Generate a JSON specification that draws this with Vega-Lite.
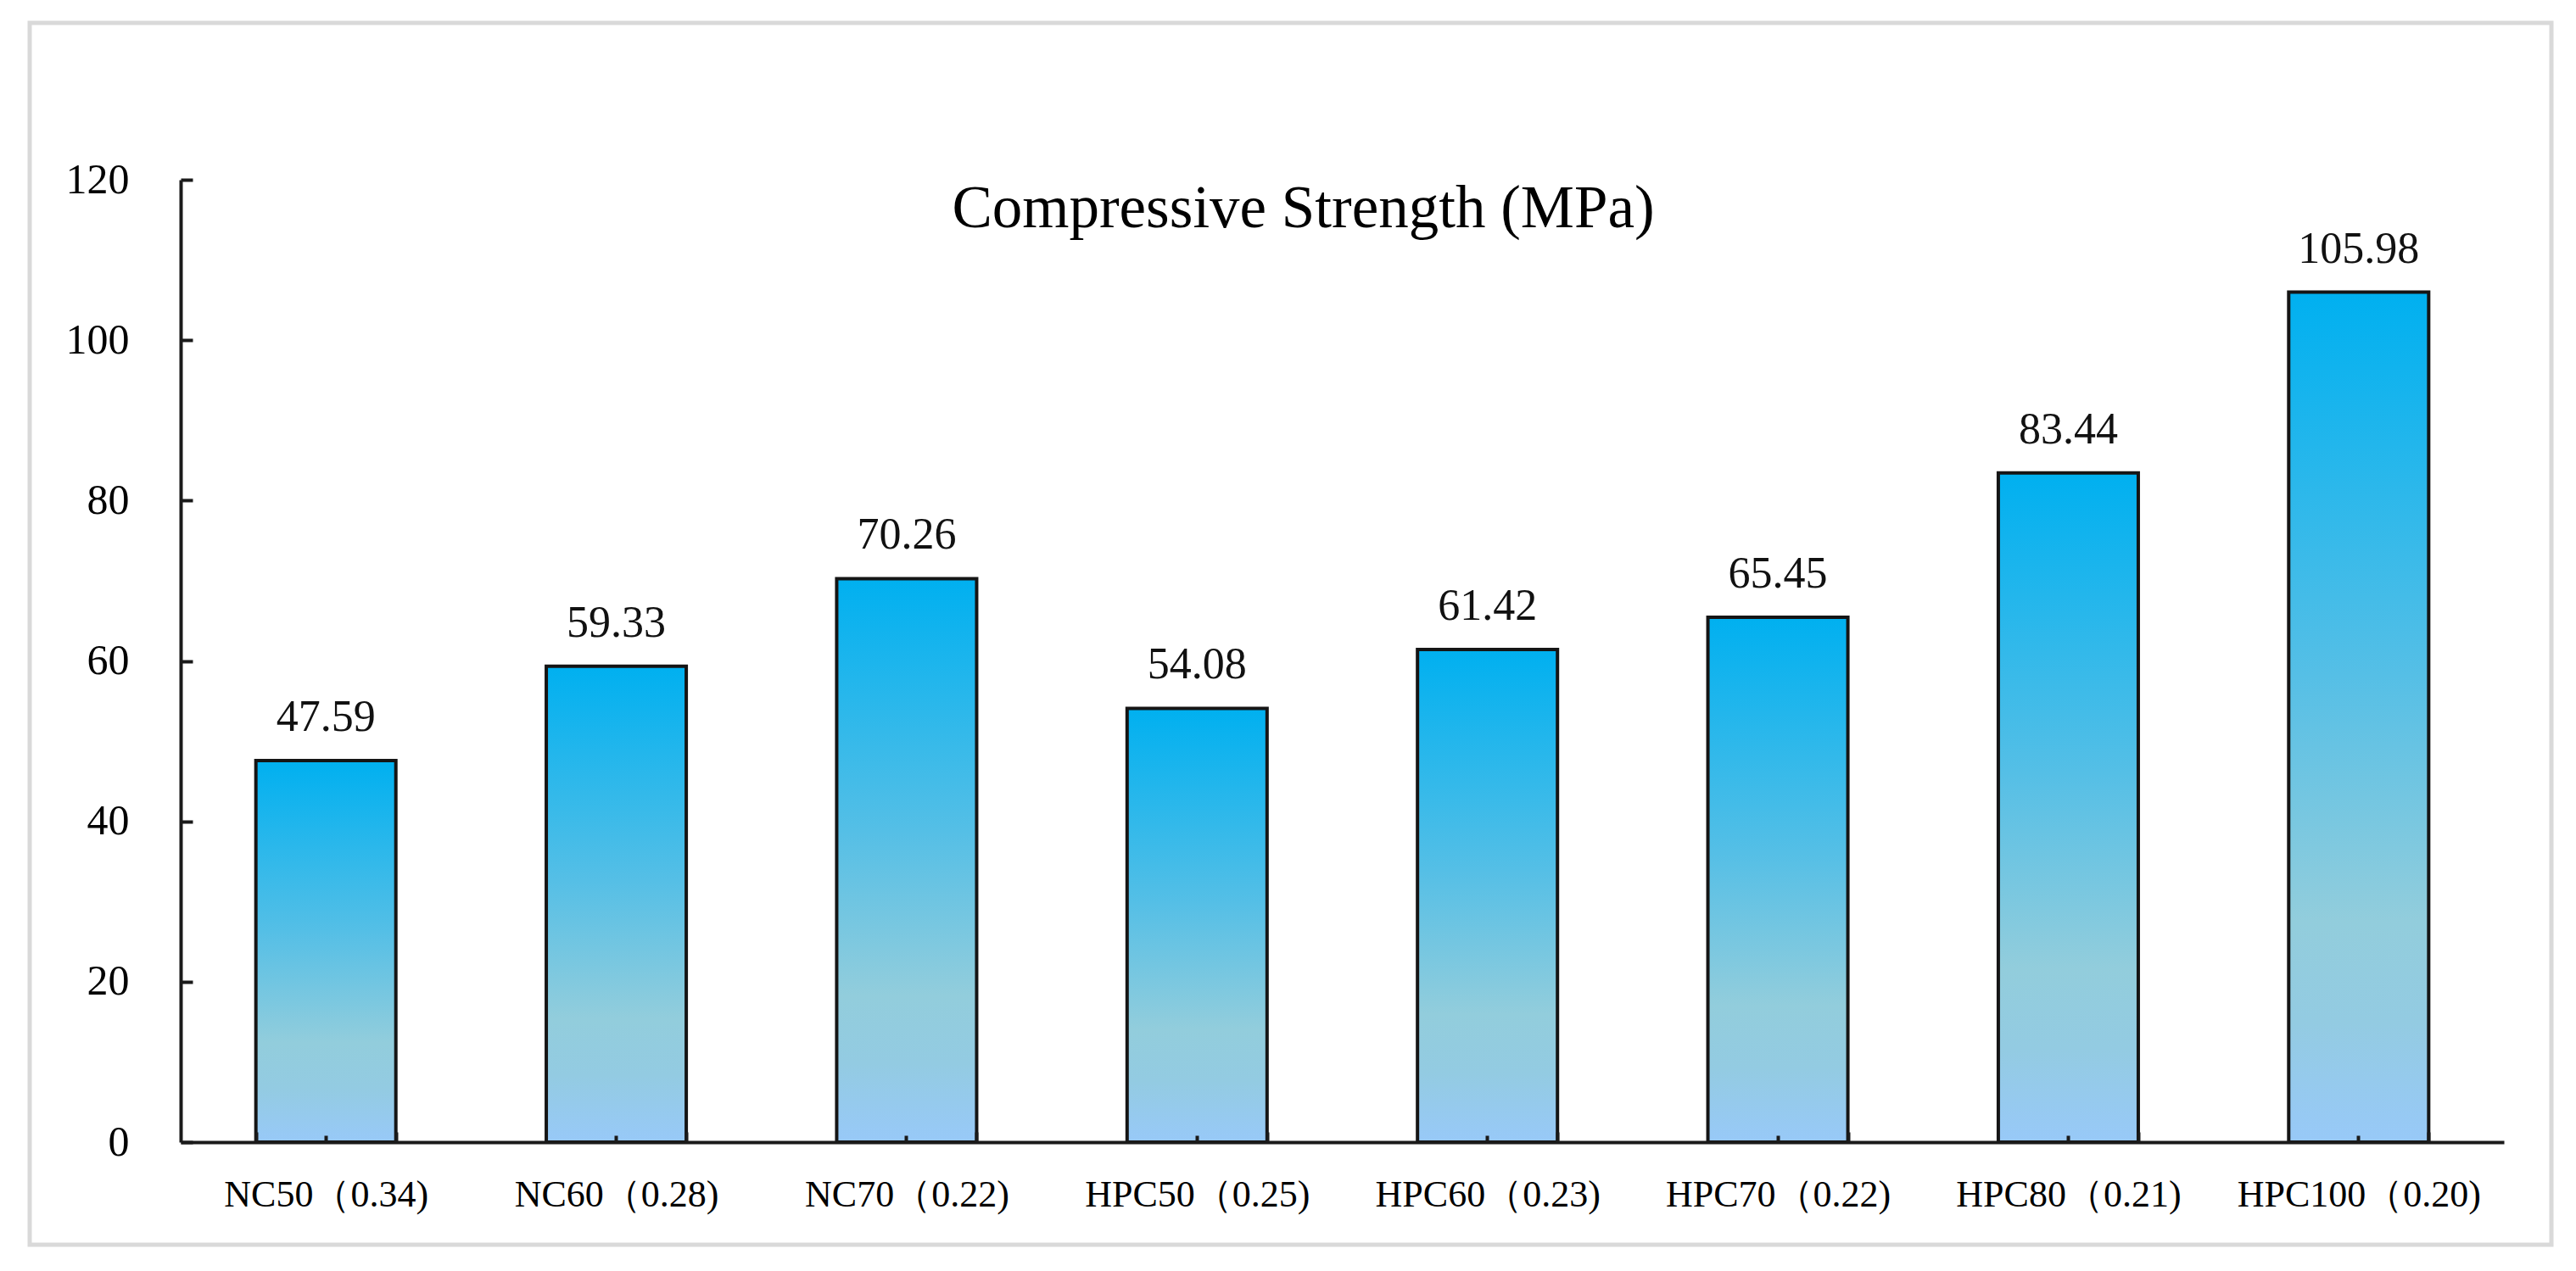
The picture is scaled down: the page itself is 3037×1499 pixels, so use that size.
{
  "$schema": "https://vega.github.io/schema/vega-lite/v6.json",
  "autosize": {"type": "none"},
  "width": 2973,
  "height": 1441,
  "padding": {"left": 35, "top": 27, "right": 29, "bottom": 31},
  "background": "white",
  "config": {
    "view": {"stroke": "#d9d9d9", "strokeWidth": 5},
    "font": "Liberation Serif"
  },
  "title": {
    "text": "Compressive Strength (MPa)",
    "font": "Liberation Serif",
    "fontSize": 71,
    "fontWeight": "normal",
    "color": "#000000",
    "anchor": "middle",
    "frame": "group",
    "baseline": "alphabetic",
    "offset": 0,
    "dx": 15,
    "dy": 312
  },
  "data": {
    "values": [
      {"mix": "NC50（0.34)", "strength": 47.59},
      {"mix": "NC60（0.28)", "strength": 59.33},
      {"mix": "NC70（0.22)", "strength": 70.26},
      {"mix": "HPC50（0.25)", "strength": 54.08},
      {"mix": "HPC60（0.23)", "strength": 61.42},
      {"mix": "HPC70（0.22)", "strength": 65.45},
      {"mix": "HPC80（0.21)", "strength": 83.44},
      {"mix": "HPC100（0.20)", "strength": 105.98}
    ]
  },
  "encoding": {
    "x": {
      "field": "mix",
      "type": "nominal",
      "sort": null,
      "scale": {"range": [178, 2917], "paddingInner": 0.518, "paddingOuter": 0.259}
    },
    "y": {
      "field": "strength",
      "type": "quantitative",
      "scale": {"domain": [0, 120], "range": [1320, 185], "nice": false, "zero": true}
    }
  },
  "layer": [
    {
      "mark": {
        "type": "bar",
        "stroke": "#151515",
        "strokeWidth": 4,
        "fill": {
          "gradient": "linear",
          "x1": 0, "y1": 0, "x2": 0, "y2": 1,
          "stops": [
            {"offset": 0, "color": "#00B0F0"},
            {"offset": 0.45, "color": "#55BFE6"},
            {"offset": 0.74, "color": "#92CDDC"},
            {"offset": 0.86, "color": "#93CBE2"},
            {"offset": 1, "color": "#98C9F8"}
          ]
        }
      },
      "encoding": {
        "x": {
          "field": "mix",
          "type": "nominal",
          "sort": null,
          "axis": {
            "title": null,
            "orient": "bottom",
            "offset": -121,
            "tickBand": "extent",
            "tickSize": -12,
            "tickWidth": 4,
            "tickColor": "#1a1a1a",
            "domainColor": "#1a1a1a",
            "domainWidth": 4,
            "labelAngle": 0,
            "labelLimit": 0,
            "labelFont": "Liberation Serif",
            "labelFontSize": 44,
            "labelColor": "#000000",
            "labelPadding": 52,
            "labelBaseline": "top",
            "zindex": 1
          }
        },
        "y": {
          "field": "strength",
          "type": "quantitative",
          "axis": {
            "title": null,
            "orient": "left",
            "offset": -178,
            "values": [0, 20, 40, 60, 80, 100, 120],
            "grid": false,
            "tickSize": -14,
            "tickWidth": 4,
            "tickColor": "#1a1a1a",
            "domainColor": "#1a1a1a",
            "domainWidth": 4,
            "labelFont": "Liberation Serif",
            "labelFontSize": 50,
            "labelColor": "#000000",
            "labelPadding": 75,
            "zindex": 1
          }
        }
      }
    },
    {
      "mark": {
        "type": "text",
        "font": "Liberation Serif",
        "fontSize": 52,
        "color": "#111111",
        "baseline": "alphabetic",
        "dy": -35
      },
      "encoding": {
        "x": {
          "field": "mix",
          "type": "nominal",
          "sort": null,
          "axis": {
            "title": null,
            "orient": "bottom",
            "offset": -121,
            "domain": false,
            "labels": false,
            "tickSize": -8,
            "tickWidth": 4,
            "tickColor": "#1a1a1a",
            "zindex": 1
          }
        },
        "text": {"field": "strength", "type": "quantitative", "format": ".2f"}
      }
    }
  ],
  "resolve": {"axis": {"x": "independent"}}
}
